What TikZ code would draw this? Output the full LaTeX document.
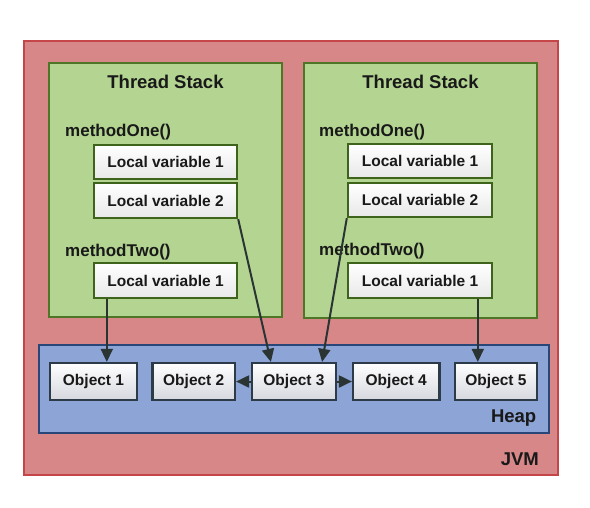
\documentclass[tikz,border=0pt]{standalone}
\usepackage{fontspec}
\setmainfont{Liberation Sans}
\usetikzlibrary{arrows.meta}
\definecolor{jvmfill}{RGB}{215,135,136}
\definecolor{jvmdraw}{RGB}{196,70,72}
\definecolor{tsfill}{RGB}{180,213,145}
\definecolor{tsdraw}{RGB}{78,118,38}
\definecolor{lvdraw}{RGB}{62,100,28}
\definecolor{heapfill}{RGB}{140,164,214}
\definecolor{heapdraw}{RGB}{40,70,120}
\definecolor{objdraw}{RGB}{45,58,72}
\definecolor{objfill}{RGB}{236,238,246}
\definecolor{arr}{RGB}{42,52,50}
\begin{document}
\begin{tikzpicture}[x=1pt,y=-1pt,
  region/.style={rectangle, line width=2pt, inner sep=0pt},
  jvmbox/.style={region, draw=jvmdraw, fill=jvmfill},
  tsbox/.style={region, draw=tsdraw, fill=tsfill},
  heapbox/.style={region, draw=heapdraw, fill=heapfill},
  lvbox/.style={rectangle, draw=lvdraw, line width=2.4pt, top color=white, bottom color=gray!18,
    inner sep=0pt, font=\fontsize{15.5}{18}\selectfont\bfseries, text=black!90},
  objbox/.style={rectangle, draw=objdraw, line width=2.2pt, top color=white, bottom color=objfill!80!gray,
    inner sep=0pt, font=\fontsize{15.5}{18}\selectfont\bfseries, text=black!90},
  title/.style={font=\fontsize{18.5}{22}\selectfont\bfseries, text=black!90, inner sep=0pt},
  meth/.style={font=\fontsize{17}{20}\selectfont\bfseries, text=black!90, inner sep=0pt, anchor=base west},
  arrowline/.style={draw=arr, line width=2pt, -{Triangle[length=13pt,width=12pt]}}
]
\useasboundingbox (0,0) rectangle (590,507);
\fill[white] (0,0) rectangle (590,507);

% JVM
\node[jvmbox, minimum width=534, minimum height=434] (jvm) at (291,258) {};
\node[title, anchor=base east] (jvmlbl) at (539,465) {JVM};

% Thread stacks
\node[tsbox, minimum width=233, minimum height=254] (tsl) at (165.5,190) {};
\node[tsbox, minimum width=233, minimum height=255] (tsr) at (420.5,190) {};
\node[title, anchor=base] (tsltitle) at (165.5,88) {Thread Stack};
\node[title, anchor=base] (tsrtitle) at (420.5,88) {Thread Stack};

\node[meth] (lm1) at (65,136.5) {methodOne()};
\node[meth] (lm2) at (65,256.5) {methodTwo()};
\node[meth] (rm1) at (319,136) {methodOne()};
\node[meth] (rm2) at (319,255.5) {methodTwo()};

\node[lvbox, minimum width=143, minimum height=34] (ll1) at (165.5,162) {Local variable 1};
\node[lvbox, minimum width=143, minimum height=35] (ll2) at (165.5,200.5) {Local variable 2};
\node[lvbox, minimum width=143, minimum height=35] (llm) at (165.5,280.5) {Local variable 1};
\node[lvbox, minimum width=144, minimum height=34] (rl1) at (420,161) {Local variable 1};
\node[lvbox, minimum width=144, minimum height=34] (rl2) at (420,200) {Local variable 2};
\node[lvbox, minimum width=144, minimum height=35] (rlm) at (420,280.5) {Local variable 1};

% Heap
\node[heapbox, minimum width=510.5, minimum height=88] (heap) at (293.75,389) {};
\node[title, anchor=base east] (heaplbl) at (536.5,422) {Heap};

\node[objbox, minimum width=87, minimum height=37] (o1) at (93.5,381.5) {Object 1};
\node[objbox, minimum width=82.5, minimum height=37] (o2) at (193.75,381.5) {Object 2};
\node[objbox, minimum width=84, minimum height=37] (o3) at (294,381.5) {Object 3};
\node[objbox, minimum width=86.5, minimum height=37] (o4) at (396.25,381.5) {Object 4};
\node[objbox, minimum width=82, minimum height=37] (o5) at (496,381.5) {Object 5};

% Connectors
\draw[arrowline] ([xshift=14pt]llm.south west) -- ([xshift=14pt]llm.south west |- o1.north);
\draw[arrowline] (ll2.south east) -- ([xshift=20pt]o3.north west);
\draw[arrowline] (rl2.south west) -- ([xshift=-15pt]o3.north east);
\draw[arrowline] ([xshift=131pt]rlm.south west) -- ([xshift=131pt]rlm.south west |- o5.north);
\draw[arrowline] (o3.west) -- (o2.east);
\draw[arrowline] (o3.east) -- (o4.west);
\end{tikzpicture}
\end{document}
